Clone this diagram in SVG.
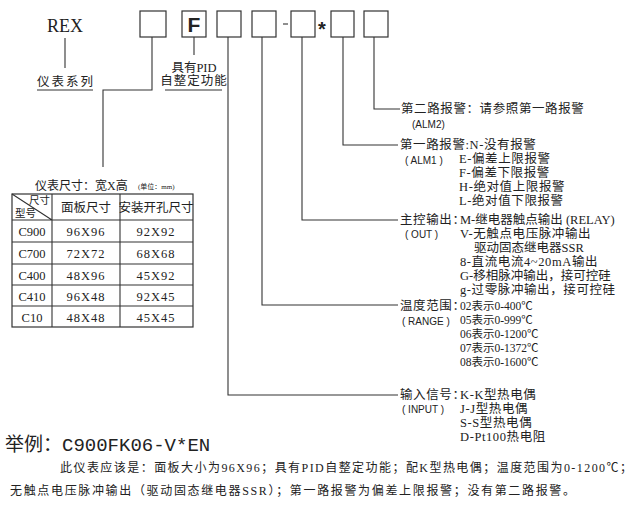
<svg xmlns="http://www.w3.org/2000/svg" width="640" height="507" viewBox="0 0 640 507" font-size="12.5">
<style>
.b{fill:#fff;stroke:#333;stroke-width:1.2}
.l{fill:none;stroke:#333;stroke-width:1.1}
text{font-family:"Liberation Serif","Noto Sans CJK SC",serif;fill:#222}
.s{font-family:"Liberation Sans","Noto Sans CJK SC",sans-serif;font-size:10px}
.c{text-anchor:middle}
.r{letter-spacing:0.6px}
</style>
<rect width="640" height="507" fill="#fff"/>
<g id="code">
<text x="47" y="32" font-size="18">REX</text>
<rect class="b" x="140" y="11" width="26" height="26"/>
<rect class="b" x="182" y="11" width="24" height="26"/>
<text x="194" y="32" class="c" font-size="21" font-weight="bold" style="font-family:'Liberation Sans',sans-serif">F</text>
<rect class="b" x="217" y="11" width="24" height="26"/>
<rect class="b" x="252" y="11" width="24" height="26"/>
<line class="l" x1="283" y1="24" x2="288" y2="24"/>
<rect class="b" x="291" y="11" width="24" height="26"/>
<text x="322" y="36" class="c" font-size="20" font-weight="bold" style="font-family:'Liberation Sans',sans-serif">*</text>
<rect class="b" x="331" y="11" width="23" height="26"/>
<rect class="b" x="364" y="11" width="24" height="26"/>
</g>
<g id="connectors">
<path class="l" d="M65 38V68M37 90H93M194 37V55M165 90H222"/>
<path class="l" d="M152 37V90H103V167"/>
<path class="l" d="M228 37V395H398"/>
<path class="l" d="M262 37V305H398"/>
<path class="l" d="M302 37V220H398"/>
<path class="l" d="M343 37V145H398"/>
<path class="l" d="M374 37V109H400"/>
</g>
<g id="series"><text x="66" y="86" class="c" letter-spacing="2">仪表系列</text></g>
<g id="pid"><text x="194" y="72" class="c">具有PID</text><text x="194" y="85" class="c" letter-spacing="1">自整定功能</text></g>
<g id="table">
<text x="35" y="190" font-size="12">仪表尺寸：宽X高</text>
<text x="138" y="189" font-size="7">(单位：mm)</text>
<rect x="12" y="194" width="181" height="133" fill="none" stroke="#333" stroke-width="1.2"/>
<path class="l" d="M52 194V327M120 194V327M12 220H193M12 242H193M12 264H193M12 285H193M12 306H193M12 194L52 220"/>
<text x="50" y="204" font-size="10.5" text-anchor="end">尺寸</text>
<text x="15" y="217" font-size="10.5">型号</text>
<text x="86" y="212" class="c">面板尺寸</text>
<text x="156" y="212" class="c">安装开孔尺寸</text>
<text x="32" y="236" class="c">C900</text><text x="86" y="236" class="c" letter-spacing="1">96X96</text><text x="156" y="236" class="c" letter-spacing="1">92X92</text>
<text x="32" y="258" class="c">C700</text><text x="86" y="258" class="c" letter-spacing="1">72X72</text><text x="156" y="258" class="c" letter-spacing="1">68X68</text>
<text x="32" y="280" class="c">C400</text><text x="86" y="280" class="c" letter-spacing="1">48X96</text><text x="156" y="280" class="c" letter-spacing="1">45X92</text>
<text x="32" y="301" class="c">C410</text><text x="86" y="301" class="c" letter-spacing="1">96X48</text><text x="156" y="301" class="c" letter-spacing="1">92X45</text>
<text x="32" y="322" class="c">C10</text><text x="86" y="322" class="c" letter-spacing="1">48X48</text><text x="156" y="322" class="c" letter-spacing="1">45X45</text>
</g>
<g id="alm2">
<text x="401" y="113" class="r">第二路报警：请参照第一路报警</text>
<text x="412" y="128" class="s">(ALM2)</text>
</g>
<g id="alm1">
<text x="400" y="149" class="r">第一路报警:N-没有报警</text>
<text x="405" y="164" class="s">( ALM1 )</text>
<text x="459" y="163" class="r">E-偏差上限报警</text>
<text x="459" y="177" class="r">F-偏差下限报警</text>
<text x="459" y="191" class="r">H-绝对值上限报警</text>
<text x="459" y="205" class="r">L-绝对值下限报警</text>
</g>
<g id="out">
<text x="400" y="224" class="r">主控输出：</text>
<text x="405" y="238" class="s">( OUT )</text>
<text x="460" y="224">M-继电器触点输出 (RELAY)</text>
<text x="460" y="238" class="r">V-无触点电压脉冲输出</text>
<text x="474" y="252">驱动固态继电器SSR</text>
<text x="460" y="266" class="r">8-直流电流4~20mA输出</text>
<text x="460" y="280">G-移相脉冲输出，接可控硅</text>
<text x="460" y="294" class="r">g-过零脉冲输出，接可控硅</text>
</g>
<g id="range">
<text x="400" y="310" class="r">温度范围：</text>
<text x="402" y="325" class="s">( RANGE )</text>
<text x="460" y="310" font-size="11.5">02表示0-400℃</text>
<text x="460" y="324" font-size="11.5">05表示0-999℃</text>
<text x="460" y="338" font-size="11.5">06表示0-1200℃</text>
<text x="460" y="352" font-size="11.5">07表示0-1372℃</text>
<text x="460" y="366" font-size="11.5">08表示0-1600℃</text>
</g>
<g id="input">
<text x="400" y="399" class="r">输入信号：</text>
<text x="402" y="413" class="s">( INPUT )</text>
<text x="460" y="399" class="r">K-K型热电偶</text>
<text x="460" y="413" class="r">J-J型热电偶</text>
<text x="460" y="427" class="r">S-S型热电偶</text>
<text x="460" y="441" class="r">D-Pt100热电阻</text>
</g>
<g id="example">
<text x="5" y="451" font-size="19" style="font-family:'Liberation Mono','Noto Sans CJK SC',monospace">举例：C900FK06-V*EN</text>
<text x="60" y="472" font-size="12" textLength="572" lengthAdjust="spacing">此仪表应该是：面板大小为96X96；具有PID自整定功能；配K型热电偶；温度范围为0-1200℃；</text>
<text x="10" y="495" font-size="12" textLength="565" lengthAdjust="spacing">无触点电压脉冲输出（驱动固态继电器SSR）；第一路报警为偏差上限报警；没有第二路报警。</text>
</g>
</svg>
